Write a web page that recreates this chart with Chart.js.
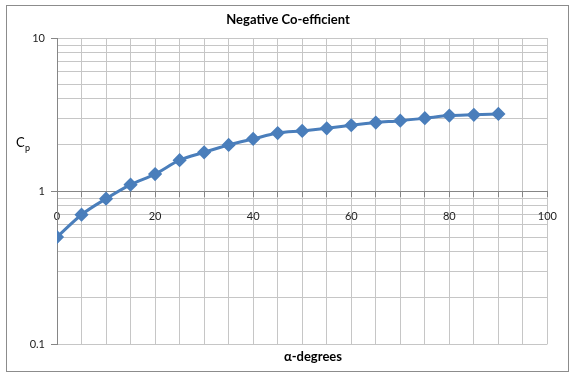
<!DOCTYPE html>
<html>
<head>
<meta charset="utf-8">
<script src="https://cdn.jsdelivr.net/npm/chart.js@4.4.1/dist/chart.umd.min.js"></script>
<style>
  html, body { margin: 0; padding: 0; background: #fff; }
  #wrap { position: relative; width: 571px; height: 374px; }
</style>
</head>
<body>
<div id="wrap"><canvas id="cpChart" width="571" height="374"></canvas></div>
<script>
// ---------- DATA ----------
const alphaDeg = [0, 5, 10, 15, 20, 25, 30, 35, 40, 45, 50, 55, 60, 65, 70, 75, 80, 85, 90];
const cpValues = [0.50, 0.70, 0.89, 1.10, 1.29, 1.59, 1.79, 2.0, 2.19, 2.39, 2.47, 2.57, 2.69, 2.80, 2.88, 2.99, 3.11, 3.15, 3.19];
const yTickValues = [0.1, 0.2, 0.3, 0.4, 0.5, 0.6, 0.7, 0.8, 0.9, 1, 2, 3, 4, 5, 6, 7, 8, 9, 10];
const yLabelValues = [0.1, 1, 10];

// ---------- TEXT ----------
const chartTitle = "Negative Co-efficient";
const xTitle = "α-degrees";

const FONT = "Lato, 'Open Sans', sans-serif";

// ---------- FRAME + TITLES ----------
const textPlugin = {
  id: "texts",
  afterDraw(chart) {
    const ctx = chart.ctx;
    ctx.save();

    // outer frame
    ctx.strokeStyle = "#8c8c8c";
    ctx.lineWidth = 1;
    ctx.strokeRect(6.5, 5.5, 562, 366);

    ctx.fillStyle = "#000";
    ctx.textBaseline = "middle";
    ctx.textAlign = "center";

    // chart title
    ctx.font = "bold 13px " + FONT;
    ctx.fillText(chartTitle, 288, 20);

    // x title
    ctx.font = "bold 13px " + FONT;
    ctx.fillText(xTitle, 313, 357);

    // y title, C with subscript p
    ctx.textAlign = "left";
    ctx.font = "13px " + FONT;
    ctx.fillText("C", 16, 143);
    ctx.font = "9px " + FONT;
    ctx.fillText("p", 25, 148);

    ctx.restore();
  },
};

// ---------- CREATE CHART ----------
const ctx = document.getElementById("cpChart").getContext("2d");

new Chart(ctx, {
  type: "line",
  data: {
    datasets: [
      {
        data: alphaDeg.map((a, i) => ({ x: a, y: cpValues[i] })),
        borderColor: "#4a7ebb",
        backgroundColor: "#4a7ebb",
        borderWidth: 3,
        cubicInterpolationMode: "monotone",
        pointStyle: "rectRot",
        pointRadius: 5,
        pointHoverRadius: 5,
        fill: false,
      },
    ],
  },
  options: {
    responsive: false,
    animation: false,
    layout: {
      padding: { top: 38, left: 0, right: 18, bottom: 30 },
    },
    plugins: {
      legend: { display: false },
      tooltip: { enabled: false },
    },
    scales: {
      x: {
        type: "linear",
        position: { y: 1 },
        min: 0,
        max: 100,
        afterFit: (s) => { s.height = 0; },
        border: { color: "#868686", width: 1 },
        grid: {
          color: "#c6c6c6",
          tickLength: 5,
          tickColor: "#868686",
        },
        ticks: {
          stepSize: 5,
          padding: 14,
          maxRotation: 0,
          autoSkip: false,
          color: "#222",
          font: { family: FONT, size: 11 },
          callback: (v) => (v % 20 === 0 ? String(v) : ""),
        },
      },
      y: {
        type: "logarithmic",
        min: 0.1,
        max: 10,
        afterFit: (s) => { s.width = 57; },
        afterBuildTicks: (s) => {
          s.ticks = yTickValues.map((v) => ({ value: v, major: yLabelValues.includes(v) }));
        },
        border: { color: "#868686", width: 1 },
        grid: {
          color: "#c6c6c6",
          tickLength: 6,
          tickColor: (c) => (c.tick && yLabelValues.includes(c.tick.value) ? "#868686" : "rgba(0,0,0,0)"),
        },
        ticks: {
          autoSkip: false,
          padding: 6,
          color: "#222",
          font: { family: FONT, size: 11 },
          callback: (v) => (yLabelValues.includes(v) ? String(v) : ""),
        },
      },
    },
  },
  plugins: [textPlugin],
});
</script>
</body>
</html>
